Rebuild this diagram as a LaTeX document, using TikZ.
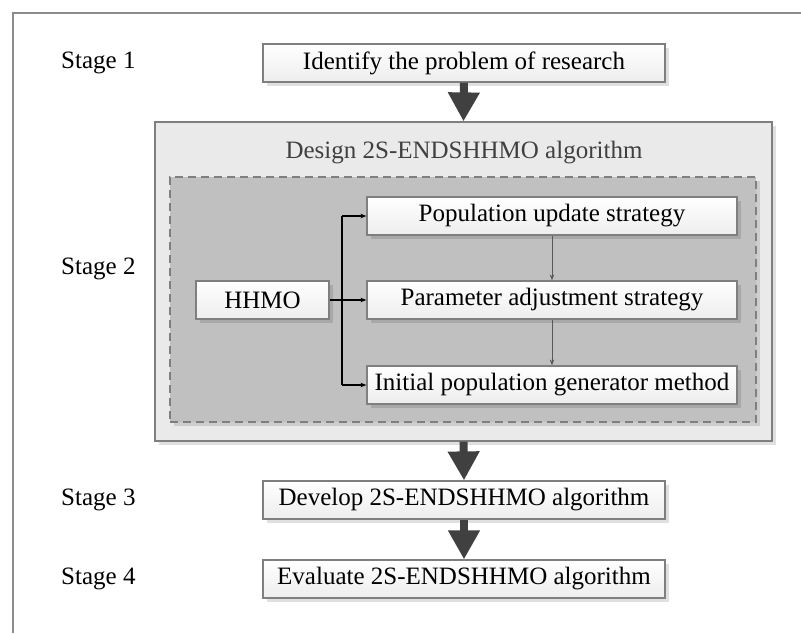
\documentclass[tikz,border=0pt]{standalone}
\usepackage{fontspec}
\setmainfont{Liberation Serif}
\usetikzlibrary{arrows.meta,shadows,calc}
\definecolor{boxline}{HTML}{7F7F7F}
\definecolor{arrowgray}{HTML}{404040}
\definecolor{framegray}{HTML}{8C8C8C}
\definecolor{outerfill}{HTML}{EAEAEA}
\definecolor{dashfill}{HTML}{C0C0C0}
\definecolor{titlegray}{HTML}{404040}
\definecolor{thingray}{HTML}{595959}
\begin{document}
\begin{tikzpicture}[x=1pt,y=-1pt,
  font=\fontsize{25}{29}\selectfont,
  shad/.style={drop shadow={shadow xshift=3.5pt, shadow yshift=-3.5pt, fill=black, opacity=0.12}},
  stepbox/.style={draw=boxline, line width=1.2pt, top color=white, bottom color=gray!14,
    minimum height=38pt, inner sep=0pt, shad},
  outerbox/.style={draw=boxline, line width=1.2pt, fill=outerfill, inner sep=0pt, shad},
  dashbox/.style={draw=boxline, line width=1.2pt, fill=dashfill, inner sep=0pt,
    dash pattern=on 8pt off 5pt, shad},
  stagelabel/.style={anchor=west, inner sep=0pt},
  bigarrow/.style={draw=arrowgray, line width=8pt, -{Triangle[length=29pt,width=30pt]}},
  conn/.style={black, line width=1.3pt},
  connarr/.style={conn, -{Stealth[length=6pt,width=4.5pt]}},
  thinarr/.style={draw=thingray, line width=1pt, -{Stealth[length=6pt,width=4.5pt]}}
]
\useasboundingbox[fill=white] (0,0) rectangle (801,633);
\draw[framegray, line width=1.5pt] (801,13) -- (13,13) -- (13,633);

% stage labels
\node[stagelabel] (l1) at (61,63) {Stage 1};
\node[stagelabel] (l2) at (61,269) {Stage 2};
\node[stagelabel] (l3) at (61,500) {Stage 3};
\node[stagelabel] (l4) at (61,579) {Stage 4};

% stage 1
\node[stepbox, minimum width=402pt] (s1) at (464,63) {Identify the problem of research};

% stage 2
\node[outerbox, minimum width=617pt, minimum height=319pt] (outer) at (463.5,281.5) {};
\node[text=titlegray, inner sep=0pt] (title) at (464,153) {Design 2S-ENDSHHMO algorithm};
\node[dashbox, minimum width=586pt, minimum height=245pt] (dash) at (463,299.5) {};
\node[stepbox, minimum width=370pt] (pop) at (552,216) {Population update strategy};
\node[stepbox, minimum width=370pt] (param) at (552,300) {Parameter adjustment strategy};
\node[stepbox, minimum width=370pt] (init) at (552,385) {Initial population generator method};
\node[stepbox, minimum width=133pt] (hhmo) at (262.5,300) {HHMO};
\coordinate (j) at (342,300);

\draw[conn] (j |- pop.west) -- (j |- init.west);
\draw[connarr] (j |- pop.west) -- (pop.west);
\draw[connarr] (j |- init.west) -- (init.west);
\draw[connarr] (hhmo.east) -- (param.west);
\draw[thinarr] (pop.south) -- (param.north);
\draw[thinarr] (param.south) -- (init.north);

% stage 3 and 4
\node[stepbox, minimum width=402pt] (s3) at (464,500) {Develop 2S-ENDSHHMO algorithm};
\node[stepbox, minimum width=402pt] (s4) at (464,579) {Evaluate 2S-ENDSHHMO algorithm};

\draw[bigarrow] (s1.south) -- (outer.north);
\draw[bigarrow] (outer.south) -- (s3.north);
\draw[bigarrow] (s3.south) -- (s4.north);
\end{tikzpicture}
\end{document}
